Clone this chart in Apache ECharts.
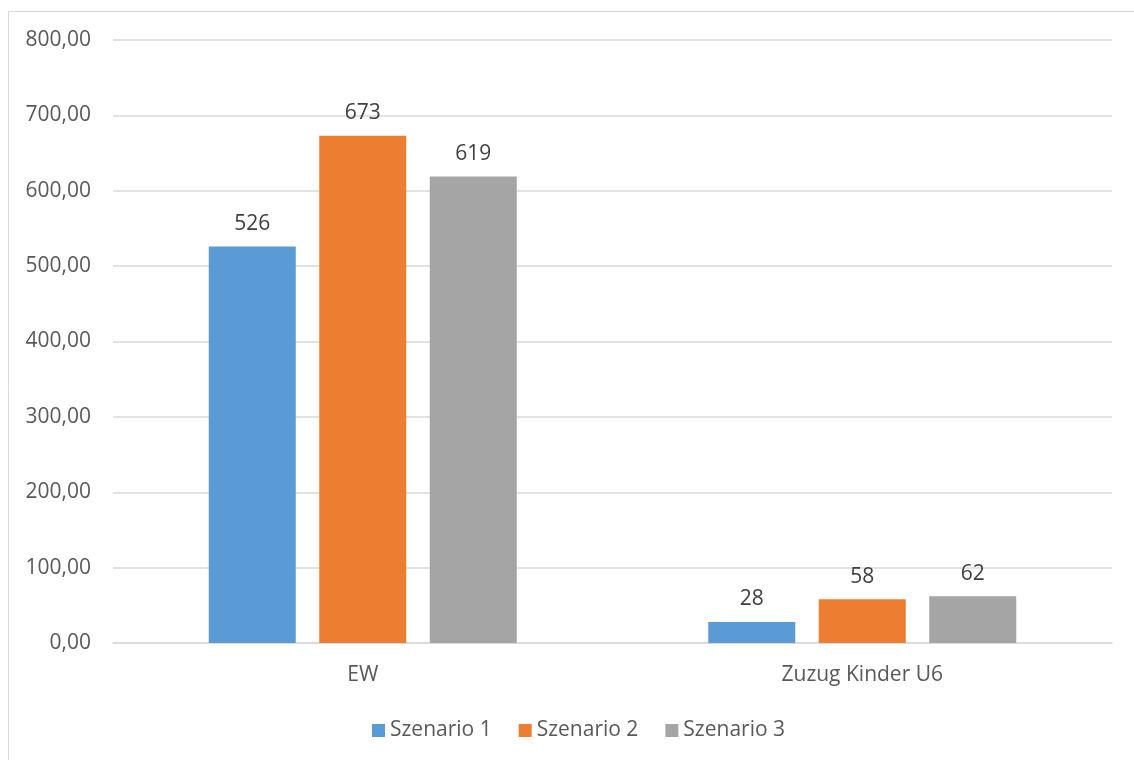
<!DOCTYPE html>
<html><head><meta charset="utf-8">
<script src="https://cdn.jsdelivr.net/npm/echarts@6/dist/echarts.min.js"></script>
<style>html,body{margin:0;padding:0;background:#fff}#c{width:1134px;height:760px}</style>
</head><body><div id="c"></div>
<script>
const categories = ["EW", "Zuzug Kinder U6"];
const seriesNames = ["Szenario 1", "Szenario 2", "Szenario 3"];
const szenario1 = [526, 28];
const szenario2 = [673, 58];
const szenario3 = [619, 62];
const colors = ["#5B9BD5", "#ED7D31", "#A5A5A5"];
const values = [szenario1, szenario2, szenario3];
const font = "'Open Sans', sans-serif";
const chart = echarts.init(document.getElementById('c'));
chart.setOption({
  animation: false,
  graphic: [{type:'rect', shape:{x:8.5,y:11.5,width:1140,height:760}, style:{fill:'none',stroke:'#D9D9D9',lineWidth:1}, silent:true}],
  grid: {left:113, right:22, top:40, bottom:117},
  legend: {bottom:19, left:372, padding:0, itemWidth:13, itemHeight:13, itemGap:27, icon:'rect',
    textStyle:{color:'#595959', fontSize:21, fontFamily:font}, data: seriesNames},
  xAxis: {type:'category', data:categories,
    axisLine:{lineStyle:{color:'#D9D9D9', width:1.5}}, axisTick:{show:false},
    axisLabel:{color:'#595959', fontSize:21, fontFamily:font, margin:22}},
  yAxis: {type:'value', min:0, max:800, interval:100,
    axisLine:{show:false}, axisTick:{show:false},
    splitLine:{lineStyle:{color:'#D9D9D9', width:1.5}},
    axisLabel:{color:'#595959', fontSize:21, fontFamily:font, margin:22,
      formatter: v => v.toFixed(2).replace('.', ',')}},
  series: seriesNames.map((n,i)=>({
    name:n, type:'bar', data:values[i], barWidth:87, barGap:'27%',
    itemStyle:{color:colors[i]},
    label:{show:true, position:'top', distance:12, color:'#404040', fontSize:21, fontFamily:font,
      formatter: p => Math.round(p.value)}
  }))
});
</script></body></html>
